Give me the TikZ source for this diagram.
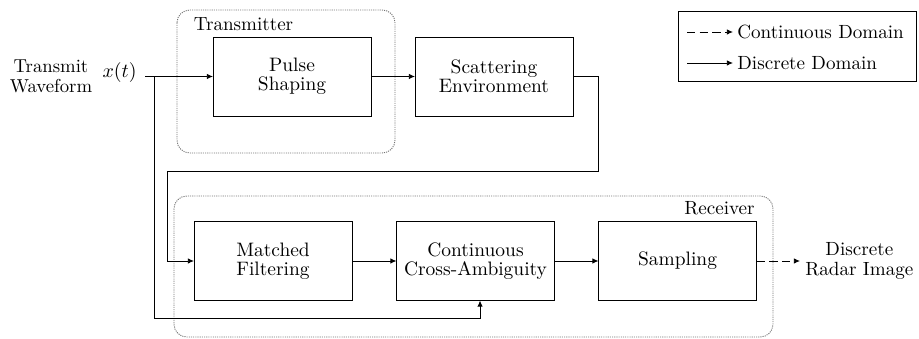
\documentclass[tikz,border=0pt]{standalone}
\usetikzlibrary{arrows.meta}
\begin{document}
\begin{tikzpicture}[x=0.55pt,y=-0.55pt,
  blk/.style={draw,line width=0.5pt,minimum width=86.9pt,minimum height=43.45pt,inner sep=0pt,outer sep=0pt,align=center,font=\fontsize{10.7}{10.3}\selectfont},
  grp/.style={draw=black!55,dash pattern=on 0.6pt off 0.6pt,line width=0.5pt,rounded corners=7pt},
  conn/.style={line width=0.5pt,-{Latex[length=3.4pt,width=3pt]}},
  dconn/.style={conn,dash pattern=on 4.6pt off 2.4pt},
  lbl/.style={inner sep=0pt,align=center,font=\fontsize{10.5}{11}\selectfont}]
\useasboundingbox (0,0) rectangle (919,339);
% groups
\draw[grp] (177,10) rectangle (395,153);
\draw[grp] (174,196) rectangle (773,337);
\node[lbl,anchor=base] (txlbl) at (243.5,30.5) {Transmitter};
\node[lbl,anchor=base east] (rxlbl) at (755,215) {Receiver};
% blocks
\node[blk] (pulse) at (292,76.5) {Pulse\\Shaping};
\node[blk] (scatter) at (494,76.5) {Scattering\\Environment};
\node[blk] (matched) at (273,261) {Matched\\Filtering};
\node[blk] (cross) at (475.5,261) {Continuous\\Cross-Ambiguity};
\node[blk] (sampling) at (677.5,261) {Sampling};
% input / output
\node[lbl,font=\fontsize{10.3}{11}\selectfont] (tw) at (51,76.5) {Transmit\\Waveform};
\node[lbl,anchor=east,font=\fontsize{10.7}{12}\selectfont] (xt) at (137,72.5) {$x(t)$};
\node[lbl,anchor=west,font=\fontsize{10.5}{11}\selectfont] (out) at (805,261) {Discrete\\Radar Image};
% connectors
\coordinate (xs) at (145,76.5);
\coordinate (j) at (154,76.5);
\coordinate (jb) at (154,318);
\coordinate (cb) at (480,318);
\coordinate (c1) at (598,171);
\coordinate (c2) at (167,171);
\coordinate (oe) at (800,261);
\draw[conn] (xs) -- (pulse.west);
\draw[conn] (pulse.east) -- (scatter.west);
\draw[conn] (scatter.east) -| (c1) -- (c2) |- (matched.west);
\draw[conn] (j) -- (jb) -- (cb) -- (cb|-cross.south);
\draw[conn] (matched.east) -- (cross.west);
\draw[conn] (cross.east) -- (sampling.west);
\draw[dconn] (sampling.east) -- (oe);
% legend
\node[draw,line width=0.5pt,minimum width=130.9pt,minimum height=39pt,inner sep=0pt] (legend) at (797,46.5) {};
\coordinate (l1a) at (687,32);
\coordinate (l1b) at (733,32);
\coordinate (l2a) at (687,63);
\coordinate (l2b) at (733,63);
\draw[dconn] (l1a) -- (l1b);
\draw[conn] (l2a) -- (l2b);
\node[lbl,anchor=west] (lt1) at (737,32) {Continuous Domain};
\node[lbl,anchor=west] (lt2) at (737,63) {Discrete Domain};
\end{tikzpicture}
\end{document}
